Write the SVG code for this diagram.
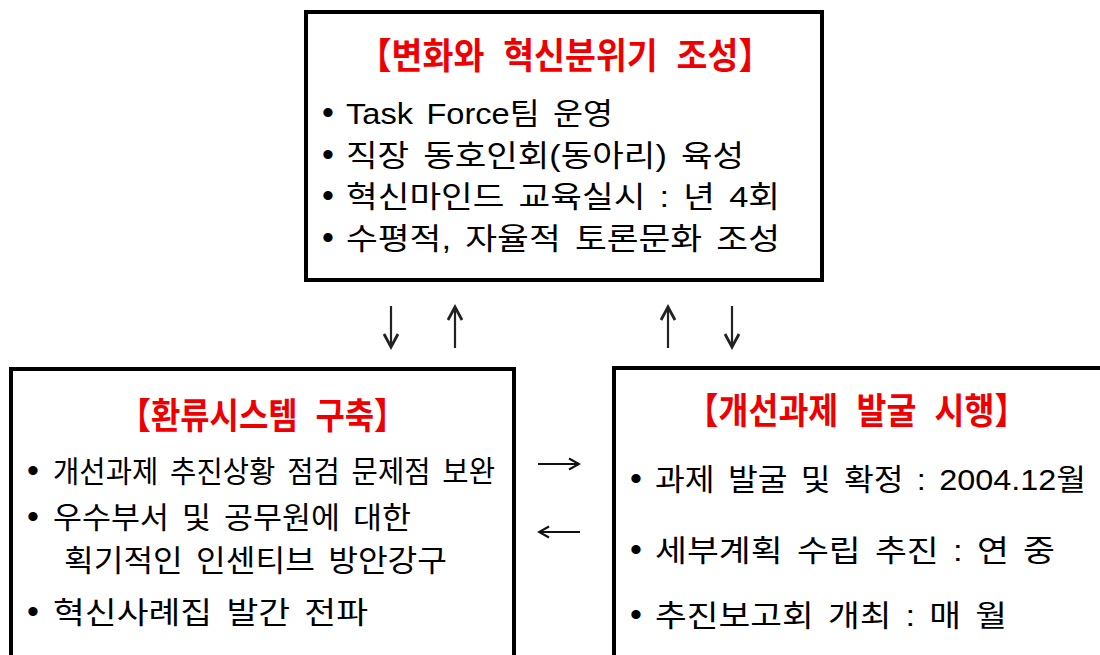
<svg xmlns="http://www.w3.org/2000/svg" width="1100" height="655" viewBox="0 0 1100 655">
<style>
.box{fill:#fff;stroke:#000;stroke-width:4}
.title{font-family:"Noto Sans CJK KR","Noto Sans CJK SC",sans-serif;font-weight:bold;font-size:36px;fill:#ee0000;word-spacing:12px}
.body{font-family:"Liberation Sans","Noto Sans CJK KR",sans-serif;font-size:30px;fill:#000;word-spacing:4px}
.dot{font-family:"Liberation Sans",sans-serif;font-size:34px;fill:#000}
.arr{fill:none;stroke:#222;stroke-width:2.2}
.arrh{fill:none;stroke:#111;stroke-width:1.8}
</style>
<defs>
<marker id="headV" markerUnits="userSpaceOnUse" markerWidth="20" markerHeight="20" viewBox="0 0 20 20" refX="16" refY="10" orient="auto">
<path d="M3,3 L16,10 L3,17" fill="none" stroke="#222" stroke-width="2.8"/>
</marker>
<marker id="headH" markerUnits="userSpaceOnUse" markerWidth="14" markerHeight="14" viewBox="0 0 14 14" refX="12" refY="7" orient="auto">
<path d="M2,1.5 L12,7 L2,12.5" fill="none" stroke="#111" stroke-width="2"/>
</marker>
</defs>

<g id="connectors">
<path class="arr" d="M391,306 L391,347" marker-end="url(#headV)"/>
<path class="arr" d="M455,348 L455,307" marker-end="url(#headV)"/>
<path class="arr" d="M668,348 L668,307" marker-end="url(#headV)"/>
<path class="arr" d="M732,306 L732,347" marker-end="url(#headV)"/>
<path class="arrh" d="M538,464 L579,464" marker-end="url(#headH)"/>
<path class="arrh" d="M580,532 L539,532" marker-end="url(#headH)"/>
</g>

<g id="node-top">
<rect class="box" x="306" y="12" width="516" height="268"/>
<text class="title" x="358" y="69" textLength="414" lengthAdjust="spacingAndGlyphs">【변화와 혁신분위기 조성】</text>
<text class="dot" x="322" y="124">•</text>
<text class="body" x="346" y="124" textLength="267" lengthAdjust="spacingAndGlyphs">Task Force팀 운영</text>
<text class="dot" x="322" y="166">•</text>
<text class="body" x="346" y="166" textLength="398" lengthAdjust="spacingAndGlyphs">직장 동호인회(동아리) 육성</text>
<text class="dot" x="322" y="207">•</text>
<text class="body" x="346" y="207" textLength="434" lengthAdjust="spacingAndGlyphs">혁신마인드 교육실시 : 년 4회</text>
<text class="dot" x="322" y="249">•</text>
<text class="body" x="346" y="249" textLength="434" lengthAdjust="spacingAndGlyphs">수평적, 자율적 토론문화 조성</text>
</g>

<g id="node-left">
<rect class="box" x="11" y="369" width="503" height="310"/>
<text class="title" x="119" y="429" textLength="287" lengthAdjust="spacingAndGlyphs">【환류시스템 구축】</text>
<text class="dot" x="27" y="482">•</text>
<text class="body" x="53" y="482" textLength="442" lengthAdjust="spacingAndGlyphs">개선과제 추진상황 점검 문제점 보완</text>
<text class="dot" x="27" y="528">•</text>
<text class="body" x="53" y="528" textLength="358" lengthAdjust="spacingAndGlyphs">우수부서 및 공무원에 대한</text>
<text class="body" x="64" y="571" textLength="383" lengthAdjust="spacingAndGlyphs">획기적인 인센티브 방안강구</text>
<text class="dot" x="27" y="623">•</text>
<text class="body" x="53" y="623" textLength="315" lengthAdjust="spacingAndGlyphs">혁신사례집 발간 전파</text>
</g>

<g id="node-right">
<rect class="box" x="614" y="368" width="510" height="310"/>
<text class="title" x="686" y="424" textLength="341" lengthAdjust="spacingAndGlyphs">【개선과제 발굴 시행】</text>
<text class="dot" x="630" y="490">•</text>
<text class="body" x="655" y="490" textLength="431" lengthAdjust="spacingAndGlyphs">과제 발굴 및 확정 : 2004.12월</text>
<text class="dot" x="630" y="561">•</text>
<text class="body" x="655" y="561" textLength="400" lengthAdjust="spacingAndGlyphs">세부계획 수립 추진 : 연 중</text>
<text class="dot" x="630" y="626">•</text>
<text class="body" x="655" y="626" textLength="352" lengthAdjust="spacingAndGlyphs">추진보고회 개최 : 매 월</text>
</g>
</svg>
